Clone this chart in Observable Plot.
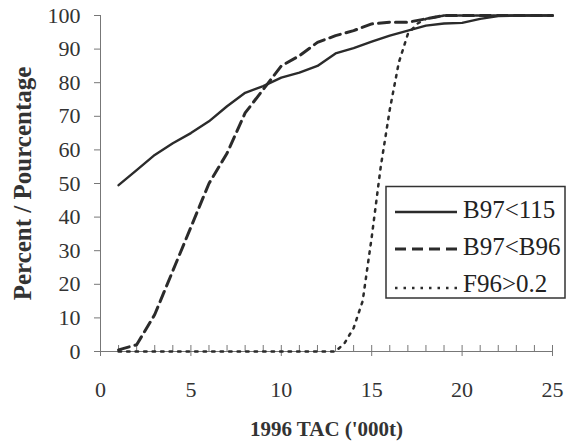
<!DOCTYPE html>
<html><head><meta charset="utf-8">
<script src="https://cdn.jsdelivr.net/npm/d3@7"></script>
<script src="https://cdn.jsdelivr.net/npm/@observablehq/plot@0.6"></script>
<style>
body{margin:0;background:#fff;}
#chart{width:567px;height:446px;}
#chart svg text{font-family:"Liberation Serif","Times New Roman",Times,serif !important;}
</style>
</head><body><div id="chart"></div>
<script>
// 1996 TAC ('000t)
const tac = [1,2,3,4,5,6,7,8,9,10,11,12,13,14,15,16,17,18,19,20,21,22,23,24,25];
const b97lt115 = [49.5,54,58.5,62,65,68.5,73,77,79,81.5,83,85,88.7,90.3,92.2,94,95.5,97,97.6,97.8,99,99.8,100,100,100];
const b97ltB96 = [0.5,2,11,24,37,50,59,71,78,85,88,92,94,95.5,97.5,98,98,99,100,100,100,100,100,100,100];
const f96Tac = [1,2,3,4,5,6,7,8,9,10,11,12,13,13.5,14,14.5,15,15.5,16,16.5,17,17.5,18,19,20,21,22,23,24,25];
const f96gt02 = [0,0,0,0,0,0,0,0,0,0,0,0,0,2.5,7,15,34,55,72,86,94.5,97.5,99,100,100,100,100,100,100,100];
const seriesNames = ["B97<115", "B97<B96", "F96>0.2"];
const yTicks = [0,10,20,30,40,50,60,70,80,90,100];
const xMajor = [0,5,10,15,20,25];
const xMinor = [0,1,2,3,4,5,6,7,8,9,10,11,12,13,14,15,16,17,18,19,20,21,22,23,24,25];

const rowsA = tac.map((x, i) => ({x, y: b97lt115[i]}));
const rowsB = tac.map((x, i) => ({x, y: b97ltB96[i]}));
const rowsC = f96Tac.map((x, i) => ({x, y: f96gt02[i]}));

const ink = "#2b2b2b";
const axisInk = "#777";
const styles = [
  {strokeWidth: 2.4, strokeDasharray: null},
  {strokeWidth: 3, strokeDasharray: "11,6"},
  {strokeWidth: 2.5, strokeDasharray: "2.5,6"}
];

const plot = Plot.plot({
  width: 567, height: 446,
  marginLeft: 100, marginRight: 15, marginTop: 15, marginBottom: 95,
  x: {domain: [0, 25]},
  y: {domain: [0, 100]},
  style: {fontFamily: "Liberation Serif, serif", fontSize: "22px", color: "#333", background: "#fff"},
  marks: [
    Plot.ruleX([0], {stroke: axisInk, strokeWidth: 1}),
    Plot.ruleY([0], {stroke: axisInk, strokeWidth: 1}),
    Plot.axisY({ticks: yTicks, tickSize: 6, tickPadding: 14, stroke: axisInk, fontSize: 22, label: null}),
    Plot.axisY({ticks: [], label: "Percent / Pourcentage", labelAnchor: "center", labelArrow: "none", labelOffset: 87, fontSize: 25, fontWeight: "bold"}),
    Plot.axisX({ticks: xMinor, tickSize: -6, stroke: axisInk, tickFormat: () => "", label: null}),
    Plot.axisX({ticks: xMajor, tickSize: 5, tickPadding: 25, stroke: axisInk, fontSize: 22, label: null}),
    Plot.axisX({ticks: [], label: "1996 TAC ('000t)", labelAnchor: "center", labelArrow: "none", labelOffset: 84, fontSize: 21, fontWeight: "bold"}),
    Plot.line(rowsA, {x: "x", y: "y", stroke: ink, ...styles[0]}),
    Plot.line(rowsB, {x: "x", y: "y", stroke: ink, ...styles[1]}),
    Plot.line(rowsC, {x: "x", y: "y", stroke: ink, ...styles[2]})
  ]
});
document.getElementById("chart").appendChild(plot);

// legend inside the plot area
const svg = d3.select(plot);
const lg = svg.append("g").attr("font-size", 25).attr("fill", "#222").attr("text-anchor", "start");
lg.append("rect").attr("x", 386).attr("y", 186.5).attr("width", 179).attr("height", 111.5)
  .attr("fill", "#fff").attr("stroke", "#333").attr("stroke-width", 1.5);
const rowY = [212, 249, 288];
const baseY = [218, 255, 292];
seriesNames.forEach((name, i) => {
  lg.append("line").attr("x1", 395).attr("x2", 457).attr("y1", rowY[i]).attr("y2", rowY[i])
    .attr("stroke", ink).attr("stroke-width", styles[i].strokeWidth)
    .attr("stroke-dasharray", styles[i].strokeDasharray);
  lg.append("text").attr("x", 463).attr("y", baseY[i]).text(name);
});
</script>
</body></html>
